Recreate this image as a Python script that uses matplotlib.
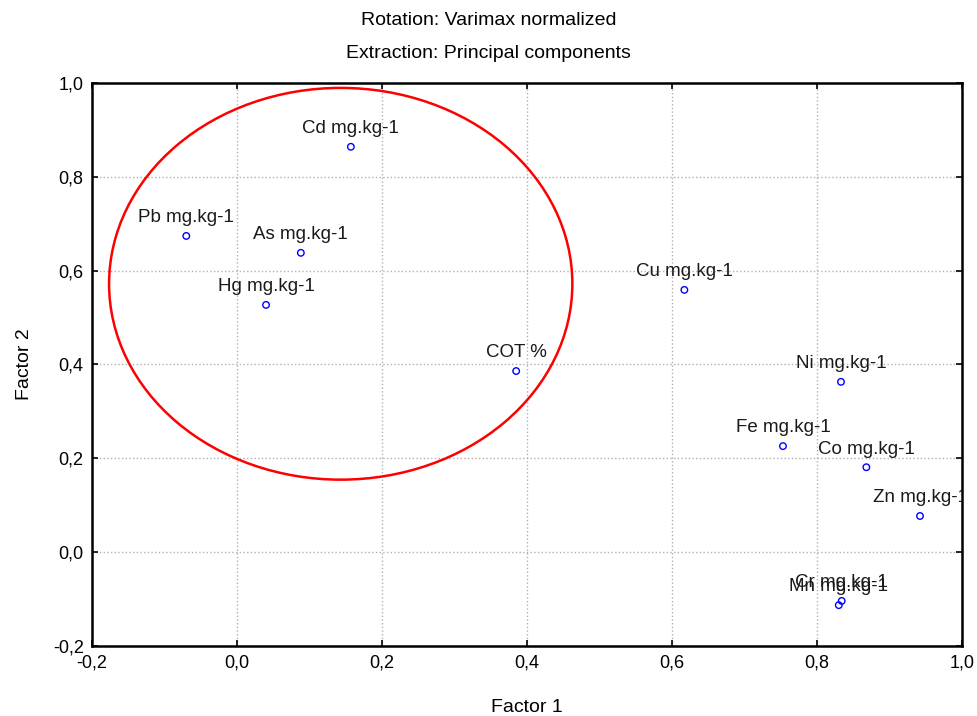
import matplotlib
matplotlib.use("Agg")
import matplotlib.pyplot as plt
from matplotlib.patches import Ellipse
from matplotlib.transforms import offset_copy

plt.rcParams['font.family'] = ['Liberation Sans', 'DejaVu Sans']

labels = ['Cd mg.kg-1', 'Pb mg.kg-1', 'As mg.kg-1', 'Hg mg.kg-1', 'COT %',
          'Cu mg.kg-1', 'Ni mg.kg-1', 'Fe mg.kg-1', 'Co mg.kg-1', 'Zn mg.kg-1',
          'Cr mg.kg-1', 'Mn mg.kg-1']
factor1 = [0.157, -0.070, 0.088, 0.040, 0.385, 0.617, 0.833, 0.753, 0.868, 0.942, 0.834, 0.830]
factor2 = [0.864, 0.674, 0.638, 0.527, 0.386, 0.559, 0.363, 0.226, 0.181, 0.077, -0.104, -0.113]

ticks = [-0.2, 0.0, 0.2, 0.4, 0.6, 0.8, 1.0]
tick_labels = ['-0,2', '0,0', '0,2', '0,4', '0,6', '0,8', '1,0']

fig = plt.figure(figsize=(9.77, 7.16), dpi=100)
ax = fig.add_axes([0.0942, 0.0978, 0.8905, 0.7863])

ax.scatter(factor1, factor2, s=22, facecolors='none', edgecolors='blue', linewidths=1.0, zorder=3)
lab_trans = offset_copy(ax.transData, fig=fig, x=0, y=7, units='points')
for x, y, t in zip(factor1, factor2, labels):
    ax.text(x, y, t, transform=lab_trans, ha='center', va='bottom',
            fontsize=13.5, color='#1a1a1a', clip_on=True)

ax.add_patch(Ellipse((0.143, 0.572), 0.639, 0.835, fill=False, edgecolor='red', linewidth=1.8, zorder=2))

ax.set_xlim(-0.2, 1.0)
ax.set_ylim(-0.2, 1.0)
ax.set_xticks(ticks)
ax.set_xticklabels(tick_labels)
ax.set_yticks(ticks)
ax.set_yticklabels(tick_labels)
ax.tick_params(direction='in', length=4, width=1.2, labelsize=13, top=True, right=True, pad=6)
ax.grid(True, linestyle=':', color='#b0b0b0', linewidth=1)
for sp in ax.spines.values():
    sp.set_linewidth(1.8)

ax.set_xlabel('Factor 1', fontsize=14, labelpad=20)
ax.set_ylabel('Factor 2', fontsize=14, labelpad=14)
fig.text(0.5, 0.972, 'Rotation: Varimax normalized', ha='center', va='center', fontsize=14)
fig.text(0.5, 0.925, 'Extraction: Principal components', ha='center', va='center', fontsize=14)

fig.savefig('out.png', dpi=100)
